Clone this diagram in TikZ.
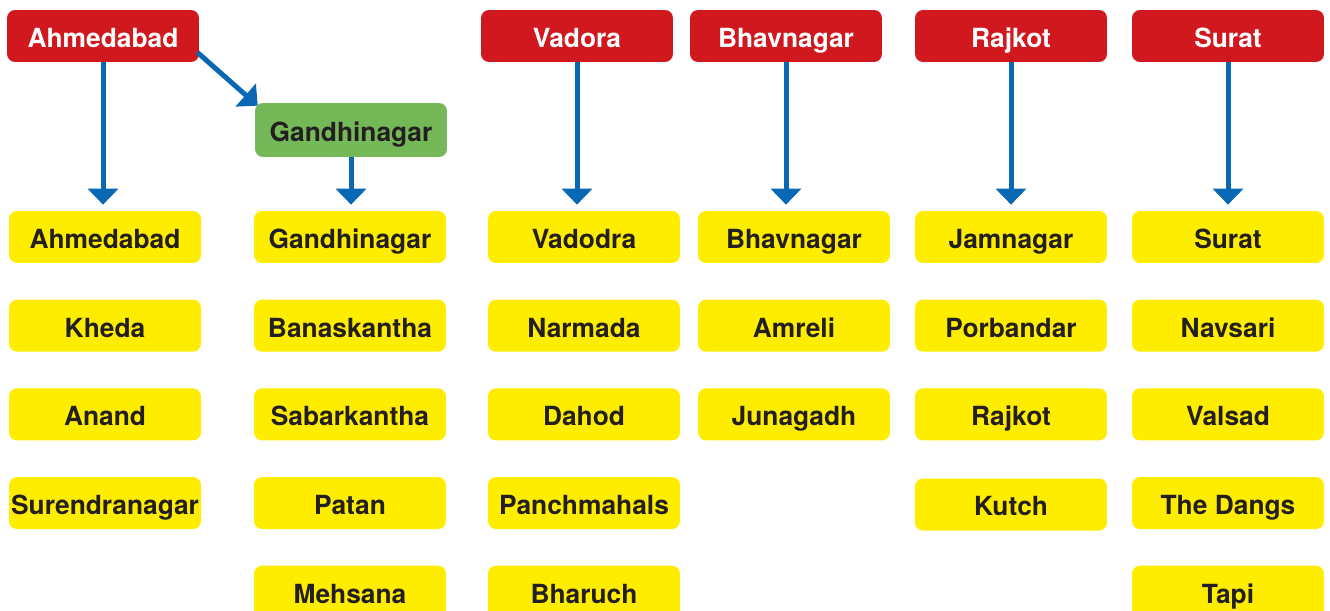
\documentclass[tikz,border=0pt]{standalone}
\usepackage{fontspec}
\setmainfont{TeX Gyre Heros}
\usetikzlibrary{arrows.meta,positioning}

\definecolor{cityred}{HTML}{D0181E}
\definecolor{capgreen}{HTML}{74B857}
\definecolor{distyellow}{HTML}{FFED00}
\definecolor{arrowblue}{HTML}{0868B4}
\definecolor{textdark}{HTML}{231F20}

\begin{document}
\begin{tikzpicture}[
    x=0.02cm, y=-0.02cm,
    node distance=0.72cm,
    box/.style={rounded corners=0.16cm, minimum width=3.84cm, minimum height=1.04cm, inner sep=0pt, text height=13pt, text depth=0pt, align=center, font=\fontsize{15}{18}\selectfont\bfseries},
    city/.style={box, fill=cityred, text=white},
    capital/.style={box, fill=capgreen, text=textdark, minimum height=1.08cm},
    district/.style={box, fill=distyellow, text=textdark},
    arrow/.style={-{Triangle[width=0.6cm, length=0.32cm]}, line width=0.1cm, arrowblue, shorten >=0.12cm}
]
\useasboundingbox (0,0) rectangle (1330,611);

% regional centres
\node[city] (ahmedabad) at (103,36) {Ahmedabad};
\node[city] (vadora) at (577,36) {Vadora};
\node[city] (bhavnagar) at (786,36) {Bhavnagar};
\node[city] (rajkot) at (1011,36) {Rajkot};
\node[city] (surat) at (1228,36) {Surat};
\node[capital] (gandhinagar) at (351,130) {Gandhinagar};

% districts
\node[district] (ahmd) at (105,237) {Ahmedabad};
\node[district] (kheda) [below=of ahmd] {Kheda};
\node[district] (anand) [below=of kheda] {Anand};
\node[district] (surendra) [below=of anand] {Surendranagar};

\node[district] (gandhi) at (350,237) {Gandhinagar};
\node[district] (banas) [below=of gandhi] {Banaskantha};
\node[district] (sabar) [below=of banas] {Sabarkantha};
\node[district] (patan) [below=of sabar] {Patan};
\node[district] (mehsana) [below=of patan] {Mehsana};

\node[district] (vadodra) at (584,237) {Vadodra};
\node[district] (narmada) [below=of vadodra] {Narmada};
\node[district] (dahod) [below=of narmada] {Dahod};
\node[district] (panch) [below=of dahod] {Panchmahals};
\node[district] (bharuch) [below=of panch] {Bharuch};

\node[district] (bhav) at (794,237) {Bhavnagar};
\node[district] (amreli) [below=of bhav] {Amreli};
\node[district] (juna) [below=of amreli] {Junagadh};

\node[district] (jamnagar) at (1011,237) {Jamnagar};
\node[district] (porbandar) [below=of jamnagar] {Porbandar};
\node[district] (rajkotd) [below=of porbandar] {Rajkot};
\node[district] (kutch) [below=0.75cm of rajkotd] {Kutch};

\node[district] (suratd) at (1228,237) {Surat};
\node[district] (navsari) [below=of suratd] {Navsari};
\node[district] (valsad) [below=of navsari] {Valsad};
\node[district] (dangs) [below=of valsad] {The Dangs};
\node[district] (tapi) [below=of dangs] {Tapi};

% arrows
\draw[arrow] (ahmedabad.south) -- (ahmedabad.south |- ahmd.north);
\draw[arrow, shorten >=0pt] ([xshift=-0.04cm, yshift=0.2cm]ahmedabad.south east) -- ([xshift=0.06cm, yshift=-0.06cm]gandhinagar.north west);
\draw[arrow] (gandhinagar.south) -- (gandhinagar.south |- gandhi.north);
\draw[arrow] (vadora.south) -- (vadora.south |- vadodra.north);
\draw[arrow] (bhavnagar.south) -- (bhavnagar.south |- bhav.north);
\draw[arrow] (rajkot.south) -- (rajkot.south |- jamnagar.north);
\draw[arrow] (surat.south) -- (surat.south |- suratd.north);
\end{tikzpicture}
\end{document}
